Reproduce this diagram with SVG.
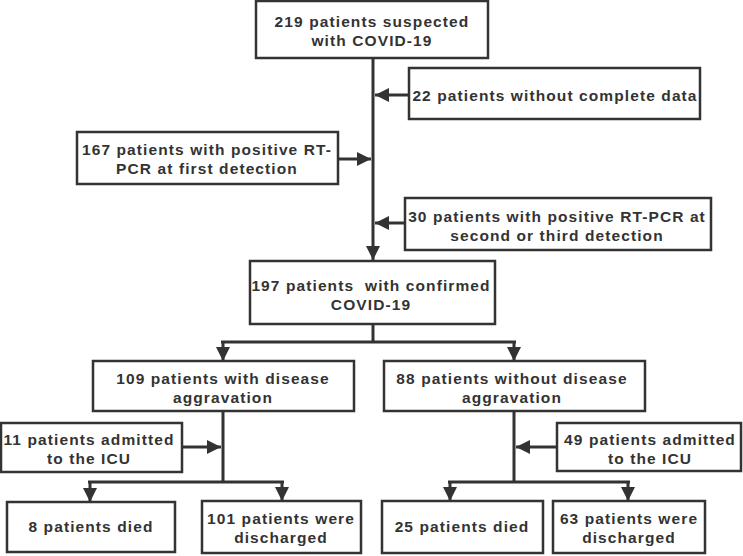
<svg xmlns="http://www.w3.org/2000/svg" width="743" height="556" viewBox="0 0 743 556">
<defs>
<marker id="ah" markerUnits="userSpaceOnUse" markerWidth="16" markerHeight="14" refX="14" refY="7" orient="auto">
<path d="M0,0 L14,7 L0,14 Z" fill="#333"/>
</marker>
</defs>
<style>
.box{fill:#fff;stroke:#333;stroke-width:2.5}
.ln{fill:none;stroke:#333;stroke-width:3}
.ar{fill:none;stroke:#333;stroke-width:3;marker-end:url(#ah)}
text{font-family:"Liberation Sans",Arial,sans-serif;font-weight:bold;font-size:15.5px;letter-spacing:1.1px;fill:#333;text-anchor:middle}
</style>
<rect width="743" height="556" fill="#fff"/>
<g id="connectors">
<path class="ar" d="M373,58 V260"/>
<path class="ar" d="M409,95 H375"/>
<path class="ar" d="M338,159 H371"/>
<path class="ar" d="M405,223 H375"/>
<path class="ln" d="M373,324 V342"/>
<path class="ln" d="M221,342 H516"/>
<path class="ar" d="M223,342 V361"/>
<path class="ar" d="M514,342 V361"/>
<path class="ln" d="M223,411 V482"/>
<path class="ar" d="M182,447 H221"/>
<path class="ln" d="M88,482 H284"/>
<path class="ar" d="M90,482 V502"/>
<path class="ar" d="M282,482 V501"/>
<path class="ln" d="M514,411 V482"/>
<path class="ar" d="M557,447 H516"/>
<path class="ln" d="M448,482 H630"/>
<path class="ar" d="M450,482 V501"/>
<path class="ar" d="M628,482 V501"/>
</g>
<g id="n219">
<rect class="box" x="256" y="1" width="232" height="57"/>
<text x="372" y="27">219 patients suspected</text>
<text x="372" y="46">with COVID-19</text>
</g>
<g id="n22">
<rect class="box" x="409" y="68" width="291" height="51"/>
<text x="555" y="101">22 patients without complete data</text>
</g>
<g id="n167">
<rect class="box" x="77" y="132" width="261" height="52"/>
<text x="207" y="155">167 patients with positive RT-</text>
<text x="207" y="174">PCR at first detection</text>
</g>
<g id="n30">
<rect class="box" x="405" y="198" width="306" height="52"/>
<text x="557" y="222">30 patients with positive RT-PCR at</text>
<text x="557" y="241">second or third detection</text>
</g>
<g id="n197">
<rect class="box" x="250" y="261" width="245" height="63"/>
<text x="371" y="291" xml:space="preserve">197 patients  with confirmed</text>
<text x="371" y="310">COVID-19</text>
</g>
<g id="n109">
<rect class="box" x="93" y="361" width="261" height="50"/>
<text x="223" y="384">109 patients with disease</text>
<text x="223" y="403">aggravation</text>
</g>
<g id="n88">
<rect class="box" x="384" y="361" width="261" height="50"/>
<text x="512" y="384">88 patients without disease</text>
<text x="512" y="403">aggravation</text>
</g>
<g id="n11">
<rect class="box" x="1" y="423" width="181" height="49"/>
<text x="89" y="445">11 patients admitted</text>
<text x="89" y="464">to the ICU</text>
</g>
<g id="n49">
<rect class="box" x="557" y="423" width="184" height="48"/>
<text x="650" y="445">49 patients admitted</text>
<text x="650" y="464">to the ICU</text>
</g>
<g id="n8">
<rect class="box" x="7" y="502" width="168" height="50"/>
<text x="91" y="532">8 patients died</text>
</g>
<g id="n101">
<rect class="box" x="202" y="501" width="159" height="52"/>
<text x="281" y="524">101 patients were</text>
<text x="281" y="543">discharged</text>
</g>
<g id="n25">
<rect class="box" x="382" y="501" width="161" height="52"/>
<text x="462" y="532">25 patients died</text>
</g>
<g id="n63">
<rect class="box" x="553" y="501" width="152" height="52"/>
<text x="629" y="524">63 patients were</text>
<text x="629" y="543">discharged</text>
</g>
</svg>
